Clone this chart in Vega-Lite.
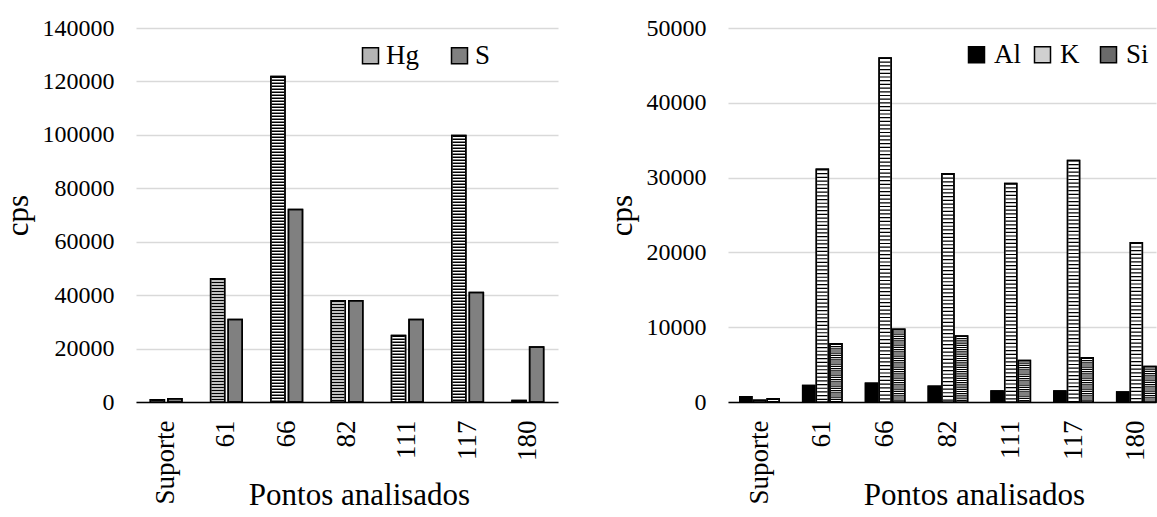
{
  "$schema": "https://vega.github.io/schema/vega-lite/v6.json",
  "background": "white",
  "padding": {"left": 2, "top": 16, "right": 0, "bottom": 0},
  "spacing": 48,
  "resolve": {
    "scale": {"x": "independent", "y": "independent", "xOffset": "independent", "fill": "independent", "stroke": "independent"},
    "legend": {"fill": "independent", "stroke": "independent"}
  },
  "config": {
    "font": "Liberation Serif, Times New Roman, serif",
    "view": {"stroke": null},
    "axis": {
      "labelFont": "Liberation Serif, Times New Roman, serif",
      "titleFont": "Liberation Serif, Times New Roman, serif",
      "labelColor": "#000000",
      "titleColor": "#000000",
      "titleFontWeight": "normal",
      "labelFontSize": 24,
      "titleFontSize": 31
    },
    "legend": {
      "labelFont": "Liberation Serif, Times New Roman, serif",
      "labelColor": "#000000",
      "labelFontSize": 27,
      "padding": 0,
      "symbolType": "square",
      "symbolSize": 256,
      "symbolStrokeColor": "#000000",
      "symbolStrokeWidth": 1.5,
      "symbolOpacity": 1,
      "gridAlign": "all"
    }
  },
  "hconcat": [
    {
      "width": 422,
      "height": 374,
      "data": {
        "values": [
          {"ponto": "Suporte", "serie": "Hg", "cps": 800},
          {"ponto": "Suporte", "serie": "S", "cps": 1200},
          {"ponto": "61", "serie": "Hg", "cps": 46100},
          {"ponto": "61", "serie": "S", "cps": 30900},
          {"ponto": "66", "serie": "Hg", "cps": 121800},
          {"ponto": "66", "serie": "S", "cps": 72100},
          {"ponto": "82", "serie": "Hg", "cps": 37900},
          {"ponto": "82", "serie": "S", "cps": 37900},
          {"ponto": "111", "serie": "Hg", "cps": 24900},
          {"ponto": "111", "serie": "S", "cps": 30900},
          {"ponto": "117", "serie": "Hg", "cps": 99800},
          {"ponto": "117", "serie": "S", "cps": 41000},
          {"ponto": "180", "serie": "Hg", "cps": 600},
          {"ponto": "180", "serie": "S", "cps": 20600}
        ]
      },
      "encoding": {
        "x": {
          "field": "ponto",
          "type": "ordinal",
          "sort": ["Suporte", "61", "66", "82", "111", "117", "180"],
          "scale": {"paddingInner": 0.476, "paddingOuter": 0.238},
          "axis": {
            "title": "Pontos analisados",
            "labelAngle": -90,
            "labelFontSize": 27,
            "labelPadding": 18,
            "ticks": false,
            "tickSize": 0,
            "domainColor": "#000000",
            "domainWidth": 1.5,
            "grid": false,
            "titleX": 223,
            "titleY": 102,
            "titleAlign": "center",
            "titleBaseline": "alphabetic"
          }
        },
        "xOffset": {
          "field": "serie",
          "type": "nominal",
          "sort": ["Hg", "S"],
          "scale": {"paddingInner": 0.2, "paddingOuter": 0}
        },
        "y": {
          "field": "cps",
          "type": "quantitative",
          "scale": {"domain": [0, 140000], "nice": false},
          "axis": {
            "title": "cps",
            "values": [0, 20000, 40000, 60000, 80000, 100000, 120000, 140000],
            "format": "d",
            "grid": true,
            "gridColor": "#d9d9d9",
            "gridWidth": 1.5,
            "domain": false,
            "ticks": false,
            "tickSize": 0,
            "labelPadding": 22,
            "titleAngle": -90,
            "titleX": -109,
            "titleY": 187,
            "titleAlign": "center",
            "titleBaseline": "alphabetic"
          }
        }
      },
      "layer": [
        {
          "mark": {"type": "bar", "strokeWidth": 1.5},
          "encoding": {
            "fill": {
              "field": "serie",
              "type": "nominal",
              "scale": {"domain": ["Hg", "S"], "range": ["#b4b4b4", "#808080"]},
              "legend": {
                "title": null,
                "orient": "none",
                "legendX": 221,
                "legendY": 14,
                "direction": "horizontal",
                "columns": 2,
                "columnPadding": 27,
                "labelOffset": 2
              }
            },
            "stroke": {
              "field": "serie",
              "type": "nominal",
              "scale": {"domain": ["Hg", "S"], "range": ["#000000", "#000000"]},
              "legend": {
                "title": null,
                "orient": "none",
                "legendX": 221,
                "legendY": 14,
                "direction": "horizontal",
                "columns": 2,
                "columnPadding": 27,
                "labelOffset": 2
              }
            }
          }
        },
        {
          "transform": [{"filter": "datum.serie === 'Hg'"}],
          "mark": {"type": "rule", "stroke": "#ffffff", "strokeWidth": 12.5},
          "encoding": {"y2": {"datum": 0}}
        },
        {
          "transform": [{"filter": "datum.serie === 'Hg'"}],
          "mark": {"type": "rule", "stroke": "#000000", "strokeWidth": 12.5, "strokeDash": [1.5, 1.5]},
          "encoding": {"y2": {"datum": 0}}
        },
        {
          "mark": {"type": "bar", "fillOpacity": 0, "stroke": "#000000", "strokeWidth": 1.5},
          "encoding": {}
        }
      ]
    },
    {
      "width": 428,
      "height": 374,
      "data": {
        "values": [
          {"ponto": "Suporte", "serie": "Al", "cps": 710},
          {"ponto": "Suporte", "serie": "K", "cps": 220},
          {"ponto": "Suporte", "serie": "Si", "cps": 440},
          {"ponto": "61", "serie": "Al", "cps": 2220},
          {"ponto": "61", "serie": "K", "cps": 31100},
          {"ponto": "61", "serie": "Si", "cps": 7780},
          {"ponto": "66", "serie": "Al", "cps": 2490},
          {"ponto": "66", "serie": "K", "cps": 46000},
          {"ponto": "66", "serie": "Si", "cps": 9730},
          {"ponto": "82", "serie": "Al", "cps": 2090},
          {"ponto": "82", "serie": "K", "cps": 30500},
          {"ponto": "82", "serie": "Si", "cps": 8840},
          {"ponto": "111", "serie": "Al", "cps": 1470},
          {"ponto": "111", "serie": "K", "cps": 29200},
          {"ponto": "111", "serie": "Si", "cps": 5560},
          {"ponto": "117", "serie": "Al", "cps": 1470},
          {"ponto": "117", "serie": "K", "cps": 32300},
          {"ponto": "117", "serie": "Si", "cps": 5910},
          {"ponto": "180", "serie": "Al", "cps": 1330},
          {"ponto": "180", "serie": "K", "cps": 21300},
          {"ponto": "180", "serie": "Si", "cps": 4760}
        ]
      },
      "encoding": {
        "x": {
          "field": "ponto",
          "type": "ordinal",
          "sort": ["Suporte", "61", "66", "82", "111", "117", "180"],
          "scale": {"paddingInner": 0.374, "paddingOuter": 0.0945, "align": 1},
          "axis": {
            "title": "Pontos analisados",
            "labelAngle": -90,
            "labelFontSize": 27,
            "labelPadding": 18,
            "ticks": false,
            "tickSize": 0,
            "domainColor": "#000000",
            "domainWidth": 1.5,
            "grid": false,
            "titleX": 246,
            "titleY": 102,
            "titleAlign": "center",
            "titleBaseline": "alphabetic"
          }
        },
        "xOffset": {
          "field": "serie",
          "type": "nominal",
          "sort": ["Al", "K", "Si"],
          "scale": {"paddingInner": 0.12, "paddingOuter": 0}
        },
        "y": {
          "field": "cps",
          "type": "quantitative",
          "scale": {"domain": [0, 50000], "nice": false},
          "axis": {
            "title": "cps",
            "values": [0, 10000, 20000, 30000, 40000, 50000],
            "format": "d",
            "grid": true,
            "gridColor": "#d9d9d9",
            "gridWidth": 1.5,
            "domain": false,
            "ticks": false,
            "tickSize": 0,
            "labelPadding": 22,
            "titleAngle": -90,
            "titleX": -97,
            "titleY": 187,
            "titleAlign": "center",
            "titleBaseline": "alphabetic"
          }
        }
      },
      "layer": [
        {
          "mark": {"type": "bar", "strokeWidth": 1.5},
          "encoding": {
            "fill": {
              "field": "serie",
              "type": "nominal",
              "scale": {"domain": ["Al", "K", "Si"], "range": ["#000000", "#d0d0d0", "#6a6a6a"]},
              "legend": {
                "title": null,
                "orient": "none",
                "legendX": 235,
                "legendY": 13,
                "direction": "horizontal",
                "columns": 3,
                "columnPadding": 8,
                "labelOffset": 4
              }
            },
            "stroke": {
              "field": "serie",
              "type": "nominal",
              "scale": {"domain": ["Al", "K", "Si"], "range": ["#000000", "#000000", "#000000"]},
              "legend": {
                "title": null,
                "orient": "none",
                "legendX": 235,
                "legendY": 13,
                "direction": "horizontal",
                "columns": 3,
                "columnPadding": 8,
                "labelOffset": 4
              }
            }
          }
        },
        {
          "transform": [{"filter": "datum.serie !== 'Al'"}],
          "mark": {"type": "rule", "stroke": "#ffffff", "strokeWidth": 10.5},
          "encoding": {"y2": {"datum": 0}}
        },
        {
          "transform": [{"filter": "datum.serie === 'K'"}],
          "mark": {"type": "rule", "stroke": "#000000", "strokeWidth": 10.5, "strokeDash": [1.2, 2.5]},
          "encoding": {"y2": {"datum": 0}}
        },
        {
          "transform": [{"filter": "datum.serie === 'Si'"}],
          "mark": {"type": "rule", "stroke": "#000000", "strokeWidth": 10.5, "strokeDash": [1.2, 1]},
          "encoding": {"y2": {"datum": 0}}
        },
        {
          "mark": {"type": "bar", "fillOpacity": 0, "stroke": "#000000", "strokeWidth": 1.5},
          "encoding": {}
        }
      ]
    }
  ]
}
